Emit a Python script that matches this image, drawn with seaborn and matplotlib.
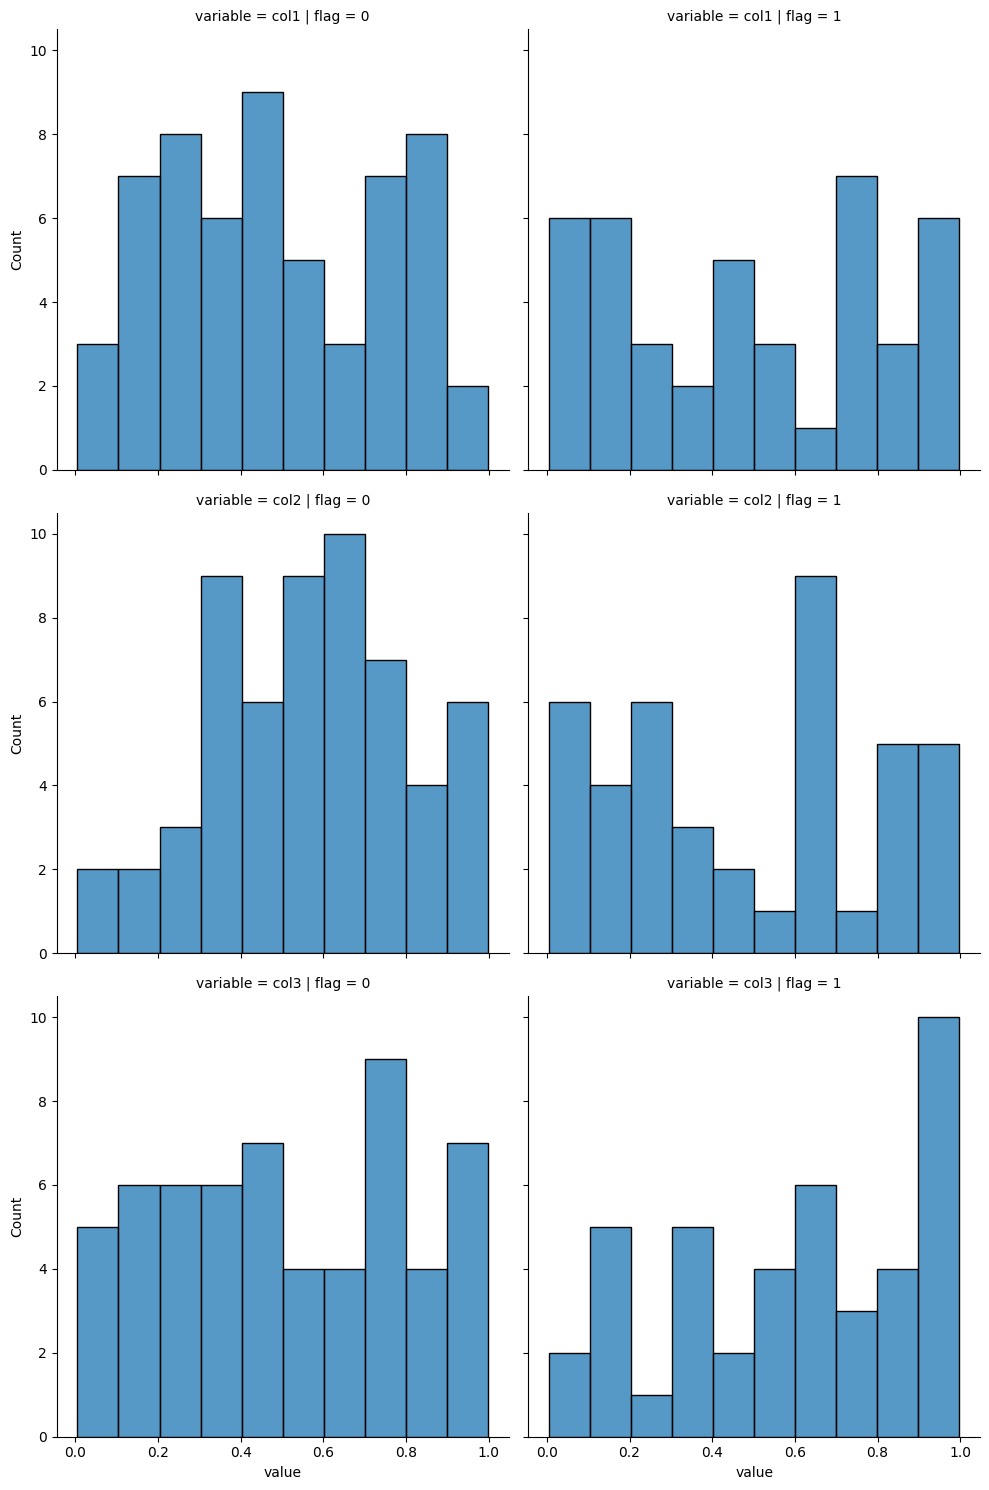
import numpy as np
import pandas as pd
import seaborn as sns
import matplotlib
matplotlib.use("Agg")
import matplotlib.pyplot as plt

variables = ["col1", "col2", "col3"]
flags = [0, 1]
bin_lo, bin_hi, n_bins = 0.005, 0.998, 10

counts_col1_f0 = [3, 7, 8, 6, 9, 5, 3, 7, 8, 2]
counts_col1_f1 = [6, 6, 3, 2, 5, 3, 1, 7, 3, 6]
counts_col2_f0 = [2, 2, 3, 9, 6, 9, 10, 7, 4, 6]
counts_col2_f1 = [6, 4, 6, 3, 2, 1, 9, 1, 5, 5]
counts_col3_f0 = [5, 6, 6, 6, 7, 4, 4, 9, 4, 7]
counts_col3_f1 = [2, 5, 1, 5, 2, 4, 6, 3, 4, 10]

counts = {
    ("col1", 0): counts_col1_f0, ("col1", 1): counts_col1_f1,
    ("col2", 0): counts_col2_f0, ("col2", 1): counts_col2_f1,
    ("col3", 0): counts_col3_f0, ("col3", 1): counts_col3_f1,
}

width = (bin_hi - bin_lo) / n_bins
centers = [bin_lo + (i + 0.5) * width for i in range(n_bins)]

rows = []
for v in variables:
    for f in flags:
        for c, n in zip(centers, counts[(v, f)]):
            rows.append({"variable": v, "flag": f, "value": c, "count": n})
df = pd.DataFrame(rows)

g = sns.displot(df, x="value", weights="count", row="variable", col="flag",
                bins=n_bins, binrange=(bin_lo, bin_hi), height=5, aspect=1)
g.savefig("out.png", dpi=100)
